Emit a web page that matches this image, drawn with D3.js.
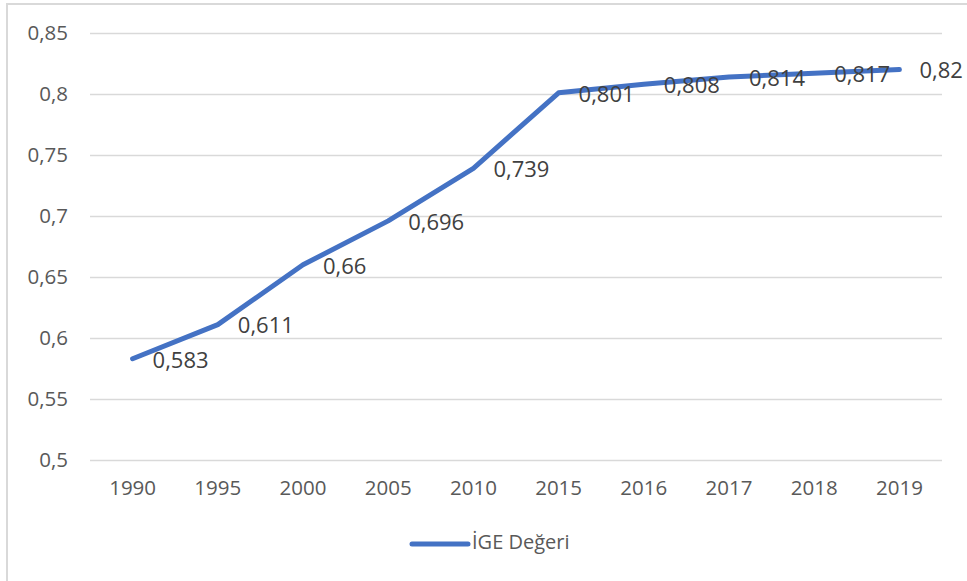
<!DOCTYPE html>
<html>
<head>
<meta charset="utf-8">
<script src="https://cdn.jsdelivr.net/npm/d3@7"></script>
<style>
  body { margin: 0; background: #fff; }
  text { font-family: "Open Sans", sans-serif; }
</style>
</head>
<body>
<script>
// chart data
var years = ["1990", "1995", "2000", "2005", "2010", "2015", "2016", "2017", "2018", "2019"];
var igeValues = [0.583, 0.611, 0.66, 0.696, 0.739, 0.801, 0.808, 0.814, 0.817, 0.82];
var yTicks = [0.5, 0.55, 0.6, 0.65, 0.7, 0.75, 0.8, 0.85];
var seriesName = "İGE Değeri";

var svgWidth = 967, svgHeight = 581;
var plot = {left: 90, right: 942, top: 33, bottom: 460};

var svg = d3.select("body").append("svg")
    .attr("width", svgWidth)
    .attr("height", svgHeight);

// chart area border (only left/top visible in the frame)
svg.append("rect")
    .attr("x", 7).attr("y", 4)
    .attr("width", svgWidth + 20).attr("height", svgHeight + 20)
    .attr("fill", "#fff")
    .attr("stroke", "#d9d9d9")
    .attr("stroke-width", 2);

var xScale = d3.scaleBand().domain(years).range([plot.left, plot.right]);
var yScale = d3.scaleLinear().domain([0.5, 0.85]).range([plot.bottom, plot.top]);

var fmt = function(v) { return String(+v.toFixed(3)).replace(".", ","); };

// gridlines + y labels
var yAxis = d3.axisLeft(yScale)
    .tickValues(yTicks)
    .tickSize(-(plot.right - plot.left))
    .tickPadding(22)
    .tickFormat(fmt);

var gy = svg.append("g")
    .attr("transform", "translate(" + plot.left + ",0)")
    .call(yAxis);
gy.select(".domain").remove();
gy.selectAll(".tick line").attr("stroke", "#d9d9d9").attr("stroke-width", 1.5);
gy.selectAll(".tick text")
    .attr("fill", "#595959")
    .style("font-size", "20.5px");

// x labels
var xAxis = d3.axisBottom(xScale).tickSize(0).tickPadding(20);
var gx = svg.append("g")
    .attr("transform", "translate(0," + plot.bottom + ")")
    .call(xAxis);
gx.select(".domain").remove();
gx.selectAll(".tick text")
    .attr("fill", "#595959")
    .style("font-size", "20.5px");

var data = years.map(function(y, i) { return {year: y, value: igeValues[i]}; });
var xMap = function(d) { return xScale(d.year) + xScale.bandwidth() / 2; };
var yMap = function(d) { return yScale(d.value); };

var line = d3.line().x(xMap).y(yMap);

svg.append("path")
    .datum(data)
    .attr("d", line)
    .attr("fill", "none")
    .attr("stroke", "#4472c4")
    .attr("stroke-width", 5)
    .attr("stroke-linejoin", "round")
    .attr("stroke-linecap", "round");

// data labels, right of the points
svg.selectAll(".lbl")
    .data(data)
    .enter().append("text")
    .attr("class", "lbl")
    .attr("x", function(d) { return xMap(d) + 20; })
    .attr("y", function(d) { return yMap(d) + 3; })
    .attr("dominant-baseline", "middle")
    .attr("fill", "#404040")
    .style("font-size", "22px")
    .text(function(d) { return fmt(d.value); });

// legend
var legend = svg.append("g").attr("transform", "translate(412,544)");
legend.append("line")
    .attr("x1", 0).attr("x2", 56)
    .attr("stroke", "#4472c4")
    .attr("stroke-width", 5)
    .attr("stroke-linecap", "round");
legend.append("text")
    .attr("x", 60)
    .attr("dominant-baseline", "middle")
    .attr("fill", "#595959")
    .style("font-size", "20px")
    .text(seriesName);
</script>
</body>
</html>
